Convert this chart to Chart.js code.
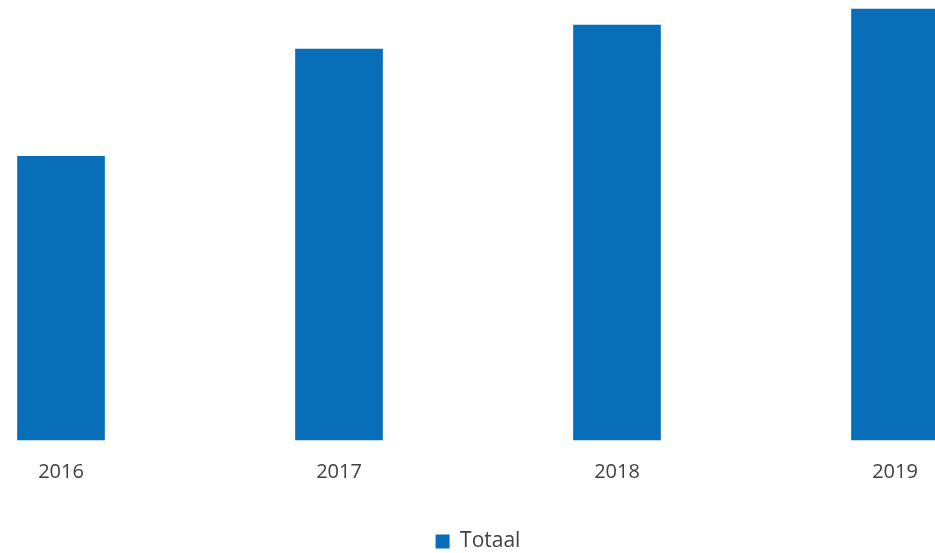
<!DOCTYPE html>
<html>
<head>
<meta charset="utf-8">
<script src="https://cdn.jsdelivr.net/npm/chart.js@4"></script>
<style>
  html, body { margin: 0; padding: 0; background: #fff; }
  #wrap { width: 935px; height: 553px; }
</style>
</head>
<body>
<div id="wrap"><canvas id="totaalChart" width="935" height="553"></canvas></div>
<script>
// values (no axis shown, relative units)
const years = ["2016", "2017", "2018", "2019"];
const totaal = [283, 390, 414, 430];
const seriesName = "Totaal";

const BLUE = "#076eb7";
const TEXT = "#404040";

Chart.defaults.font.family = "'Open Sans', 'Noto Sans', sans-serif";

new Chart(document.getElementById("totaalChart").getContext("2d"), {
  type: "bar",
  data: {
    labels: years,
    datasets: [{
      label: seriesName,
      data: totaal,
      backgroundColor: BLUE,
      borderWidth: 0,
      barThickness: 87,
      clip: false
    }]
  },
  options: {
    responsive: false,
    animation: false,
    // negative bottom pushes the legend row down to the canvas edge
    layout: { padding: { left: 61, right: 40, top: 9, bottom: -9 } },
    scales: {
      x: {
        offset: false,
        // invisible tick marks just to add space above the labels
        grid: { display: true, drawOnChartArea: false, drawTicks: true, tickLength: 8, color: "rgba(0,0,0,0)" },
        border: { display: false },
        ticks: { color: TEXT, font: { size: 20 }, padding: 12, maxRotation: 0 },
        afterFit: (scale) => { scale.height += 26; }
      },
      y: {
        display: false,
        min: 0,
        max: 430
      }
    },
    plugins: {
      legend: {
        position: "bottom",
        labels: {
          color: TEXT,
          font: { size: 21 },
          boxWidth: 14,
          boxHeight: 14,
          padding: 9
        }
      },
      tooltip: { enabled: false }
    }
  }
});
</script>
</body>
</html>
